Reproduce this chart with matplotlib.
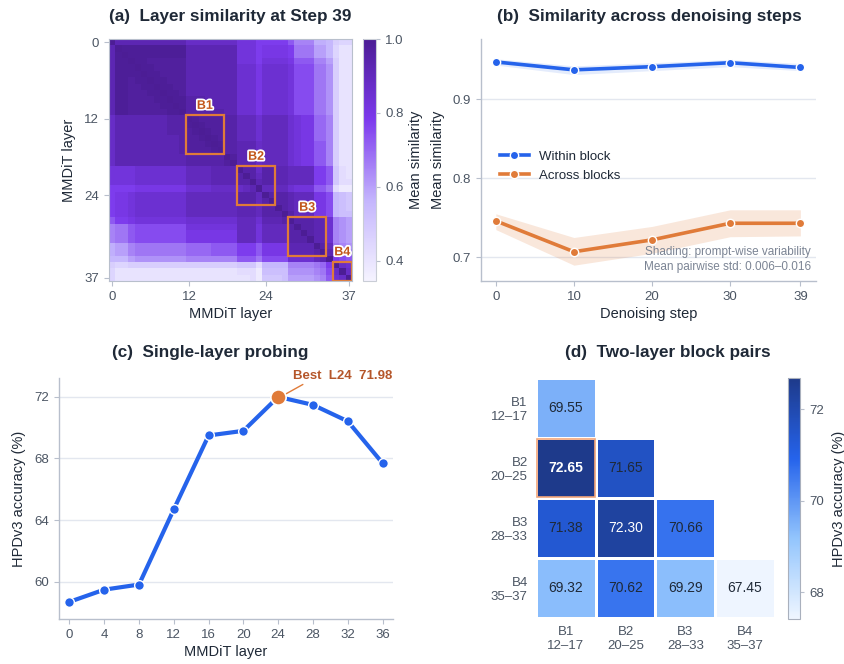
import numpy as np
import matplotlib
matplotlib.use("Agg")
import matplotlib.pyplot as plt
import matplotlib.patheffects as pe
from matplotlib.colors import LinearSegmentedColormap
from matplotlib.patches import Rectangle

plt.rcParams["font.family"] = ["Liberation Sans", "DejaVu Sans"]

# ---------------- data ----------------
# (a) layer x layer similarity at step 39, lower triangle, one letter per cell:
# a=0.350, b=0.375, ... z=0.975 (steps of 0.025), "@" = 0.99, "#" = 1.0.
# spaces only separate column groups to keep the rows readable.
SIM_CODES = "abcdefghijklmnopqrstuvwxyz"
SIM_SPECIAL = {"@": 0.99, "#": 1.0}
SIM_ROWS = [
    "#",
    "x#",
    "x @#",
    "x @@ #",
    "x @@ @#",
    "x @@ @@#",
    "x @@ z@@#",
    "x @@ zz@@#",
    "x @@ zzz@@#",
    "x @@ zzzz@@#",
    "x @@ zzzzz@@#",
    "x @@ zzzzzz@@#",
    "v xx xxxxxxyyy #",
    "v xx xxxxxxyyy @#",
    "v xx xxxxxxyyy z@#",
    "v xx xxxxxxxxy zz@#",
    "v xx xxxxxxxxy zzz@#",
    "v xx xxxxxxxxy zzzz@#",
    "v xx xxxxxxxxx yyyyyy#",
    "v xx xxxxxxxxx yyyyyyz#",
    "t tt tuuuuuuuu wwwwxxxx #",
    "t tt tuuuuuuuu wwwwxxxx y#",
    "t tt tuuuuuuuu wwwwxxxx yy#",
    "r rr rssssssss uuuuvvvv vwx #",
    "r ss tuuuuuuuu wwwwwwww yyy w #",
    "r ss tuuuuuuuu wwwwwwww yyy w y#",
    "r ss tuuuuuuuu wwwwwwww xxx w yy#",
    "r ss tuuuuuuuu wwwwwwww xxx w yyy#",
    "p rr stttttttt uuuuuuuu www u xxxy #",
    "m nn pqqqqqqqq tttttttt www t wwww y#",
    "m nn pqqqqqqqq ssssssss www t wwww yy#",
    "m nn pqqqqqqqq ssssssss www t wwww yyy#",
    "j kk mnnnnnnnn oooopppp rrr p ssss xxxx #",
    "j kk mnnnnnnnn oooopppp rrr p ssss xxxx y#",
    "i ii kllllllll mmmmmmmm ppp n qqqq uuuu wx #",
    "f ee fffffffff ffffffff ggg d iiii mmmm no r #",
    "e cc ccccccccc cccccccc ddd b hhhh llll mn q v#",
    "e cc ccccccccc cccccccc ccd b gggh kkkk lm p uv#",
]
SIM_TICKS = [0, 12, 24, 37]
BLOCK_NAMES = ["B1", "B2", "B3", "B4"]
BLOCK_START = [12, 20, 28, 35]
BLOCK_END = [17, 25, 33, 37]

# (b) similarity across denoising steps
steps = [0, 10, 20, 30, 39]
within_mean = [0.947, 0.937, 0.941, 0.946, 0.940]
within_lo = [0.943, 0.931, 0.936, 0.941, 0.936]
within_hi = [0.951, 0.942, 0.946, 0.950, 0.945]
across_mean = [0.746, 0.707, 0.722, 0.743, 0.743]
across_lo = [0.735, 0.690, 0.705, 0.726, 0.727]
across_hi = [0.755, 0.725, 0.739, 0.760, 0.760]

# (c) single-layer probing
probe_layers = [0, 4, 8, 12, 16, 20, 24, 28, 32, 36]
probe_acc = [58.71, 59.50, 59.83, 64.70, 69.48, 69.78, 71.98, 71.46, 70.40, 67.69]

# (d) two-layer block pairs (lower triangle)
pair_labels = ["B1\n12–17", "B2\n20–25", "B3\n28–33", "B4\n35–37"]
pair_acc = [
    [69.55],
    [72.65, 71.65],
    [71.38, 72.30, 70.66],
    [69.32, 70.62, 69.29, 67.45],
]

# ---------------- style ----------------
W, H = 845, 664
TXT = "#1f2937"
TICK = "#4b5563"
SPINE = "#b8bfcc"
GRID = "#e3e7ef"
BLUE = "#2563eb"
ORANGE = "#e07b39"
TITLE_SIZE = 12.3


def px_axes(fig, l, t, r, b):
    return fig.add_axes([l / W, 1 - b / H, (r - l) / W, (b - t) / H])


def style_line_axes(ax):
    for s in ["top", "right"]:
        ax.spines[s].set_visible(False)
    for s in ["left", "bottom"]:
        ax.spines[s].set_color(SPINE)
        ax.spines[s].set_linewidth(1.0)
    ax.tick_params(colors=SPINE, labelcolor=TICK, labelsize=9.5, length=3.5, width=0.8)
    ax.yaxis.grid(True, color=GRID, linewidth=1.0)
    ax.set_axisbelow(True)


fig = plt.figure(figsize=(W / 100, H / 100), dpi=100)

# ---------------- (a) ----------------
n = len(SIM_ROWS)
sim = np.ones((n, n))
for i, row in enumerate(SIM_ROWS):
    cells = row.replace(" ", "")
    assert len(cells) == i + 1, (i, len(cells))
    for j, ch in enumerate(cells):
        v = SIM_SPECIAL[ch] if ch in SIM_SPECIAL else 0.35 + 0.025 * SIM_CODES.index(ch)
        sim[i, j] = sim[j, i] = v

violet = LinearSegmentedColormap.from_list(
    "violet", ["#f5f3ff", "#c4b5fd", "#7c3aed", "#4c1d95"])
ax_a = px_axes(fig, 109, 39, 352, 281)
im = ax_a.imshow(sim, cmap=violet, vmin=0.345, vmax=1.0, aspect="auto",
                 interpolation="nearest")
ax_a.set_xticks(SIM_TICKS)
ax_a.set_yticks(SIM_TICKS)
ax_a.tick_params(colors=SPINE, labelcolor=TICK, labelsize=9.5, length=3.5, width=0.8)
for s in ax_a.spines.values():
    s.set_color(SPINE)
    s.set_linewidth(0.8)
ax_a.set_xlabel("MMDiT layer", fontsize=10.5, color=TXT, labelpad=3)
ax_a.set_ylabel("MMDiT layer", fontsize=10.5, color=TXT, labelpad=6)
for name, s0, s1 in zip(BLOCK_NAMES, BLOCK_START, BLOCK_END):
    ax_a.add_patch(Rectangle((s0 - 0.5, s0 - 0.5), s1 - s0 + 1, s1 - s0 + 1,
                             fill=False, edgecolor=ORANGE, linewidth=1.6))
    ax_a.text((s0 + s1) / 2, s0 - 2.0, name, ha="center", va="center",
              fontsize=9, fontweight="bold", color="#c2561a",
              path_effects=[pe.withStroke(linewidth=2.5, foreground="white")])

cax_a = px_axes(fig, 363, 39, 376, 281)
cb_a = fig.colorbar(im, cax=cax_a)
cb_a.set_ticks([0.4, 0.6, 0.8, 1.0])
cb_a.outline.set_edgecolor("#c9cdd6")
cb_a.ax.tick_params(colors=SPINE, labelcolor=TICK, labelsize=9.5, length=3)
cb_a.set_label("Mean similarity", fontsize=10.5, color=TXT, labelpad=4)
fig.text(230 / W, 1 - 16 / H, "(a)  Layer similarity at Step 39", ha="center",
         va="center", fontsize=TITLE_SIZE, fontweight="bold", color=TXT)

# ---------------- (b) ----------------
ax_b = px_axes(fig, 481, 39, 816, 281)
style_line_axes(ax_b)
ax_b.fill_between(steps, within_lo, within_hi, color=BLUE, alpha=0.12, linewidth=0)
ax_b.fill_between(steps, across_lo, across_hi, color=ORANGE, alpha=0.18, linewidth=0)
ax_b.plot(steps, within_mean, color=BLUE, lw=2.6, marker="o", ms=6,
          mec="white", mew=1.0, label="Within block")
ax_b.plot(steps, across_mean, color=ORANGE, lw=2.6, marker="o", ms=6,
          mec="white", mew=1.0, label="Across blocks")
ax_b.set_xlim(-1.9, 41)
ax_b.set_ylim(0.67, 0.976)
ax_b.set_xticks(steps)
ax_b.set_yticks([0.7, 0.8, 0.9])
ax_b.set_xlabel("Denoising step", fontsize=10.5, color=TXT, labelpad=3)
ax_b.set_ylabel("Mean similarity", fontsize=10.5, color=TXT, labelpad=6)
ax_b.legend(loc="center left", bbox_to_anchor=(0.02, 0.475), frameon=False,
            fontsize=9.5, handlelength=2.2, labelcolor=TXT)
ax_b.text(0.985, 0.035, "Shading: prompt-wise variability\nMean pairwise std: 0.006–0.016",
          transform=ax_b.transAxes, ha="right", va="bottom", fontsize=8.5,
          color="#7b8494", linespacing=1.25)
fig.text(649 / W, 1 - 16 / H, "(b)  Similarity across denoising steps", ha="center",
         va="center", fontsize=TITLE_SIZE, fontweight="bold", color=TXT)

# ---------------- (c) ----------------
ax_c = px_axes(fig, 59, 378, 393, 619)
style_line_axes(ax_c)
ax_c.plot(probe_layers, probe_acc, color=BLUE, lw=3.0, marker="o", ms=7,
          mec="white", mew=1.0, zorder=3)
best = int(np.argmax(probe_acc))
ax_c.plot(probe_layers[best], probe_acc[best], marker="o", ms=11, color=ORANGE,
          mec="white", mew=1.2, zorder=4)
ax_c.annotate(f"Best  L{probe_layers[best]}  {probe_acc[best]:.2f}",
              xy=(probe_layers[best] + 0.6, probe_acc[best] + 0.1),
              xytext=(25.7, 73.35), ha="left", va="center", fontsize=9.5,
              fontweight="bold", color="#b5562a",
              arrowprops=dict(arrowstyle="-", color=ORANGE, lw=1.0,
                              shrinkA=0, shrinkB=0, relpos=(0.15, 0.0)))
ax_c.set_xlim(-1.2, 37.2)
ax_c.set_ylim(57.6, 73.2)
ax_c.set_xticks(probe_layers)
ax_c.set_yticks([60, 64, 68, 72])
ax_c.set_xlabel("MMDiT layer", fontsize=10.5, color=TXT, labelpad=3)
ax_c.set_ylabel("HPDv3 accuracy (%)", fontsize=10.5, color=TXT, labelpad=6)
fig.text(210 / W, 1 - 352 / H, "(c)  Single-layer probing", ha="center",
         va="center", fontsize=TITLE_SIZE, fontweight="bold", color=TXT)

# ---------------- (d) ----------------
k = len(pair_labels)
grid = np.full((k, k), np.nan)
for i, row in enumerate(pair_acc):
    for j, v in enumerate(row):
        grid[i, j] = v
blues = LinearSegmentedColormap.from_list(
    "blues", ["#eff6ff", "#93c5fd", "#2563eb", "#1e3a8a"])
vmin, vmax = np.nanmin(grid) - 0.04, np.nanmax(grid) + 0.04
ax_d = px_axes(fig, 536, 378, 775, 618)
mesh = ax_d.pcolormesh(np.ma.masked_invalid(grid), cmap=blues, vmin=vmin, vmax=vmax,
                       edgecolors="white", linewidth=2)
ax_d.set_xlim(0, k)
ax_d.set_ylim(k, 0)
ax_d.set_xticks(np.arange(k) + 0.5)
ax_d.set_yticks(np.arange(k) + 0.5)
ax_d.set_xticklabels(pair_labels)
ax_d.set_yticklabels(pair_labels, ha="right")
ax_d.tick_params(length=0, labelcolor=TICK, labelsize=9.5, pad=6)
for s in ax_d.spines.values():
    s.set_visible(False)
bi, bj = np.unravel_index(np.nanargmax(grid), grid.shape)
for i, row in enumerate(pair_acc):
    for j, v in enumerate(row):
        is_best = (i == bi and j == bj)
        ax_d.text(j + 0.5, i + 0.5, f"{v:.2f}", ha="center", va="center",
                  fontsize=10, color="white" if v > 72 else TXT,
                  fontweight="bold" if is_best else "normal")
ax_d.add_patch(Rectangle((bj + 0.01, bi + 0.01), 0.98, 0.98, fill=False,
                         edgecolor="#f2a67a", linewidth=1.2))

cax_d = px_axes(fig, 788, 378, 800, 619)
cb_d = fig.colorbar(mesh, cax=cax_d)
cb_d.set_ticks([68, 70, 72])
cb_d.outline.set_edgecolor("#a9b0bd")
cb_d.ax.tick_params(colors=SPINE, labelcolor=TICK, labelsize=9.5, length=3)
cb_d.set_label("HPDv3 accuracy (%)", fontsize=10.5, color=TXT, labelpad=6)
fig.text(668 / W, 1 - 352 / H, "(d)  Two-layer block pairs", ha="center",
         va="center", fontsize=TITLE_SIZE, fontweight="bold", color=TXT)

fig.savefig("out.png", dpi=100)
